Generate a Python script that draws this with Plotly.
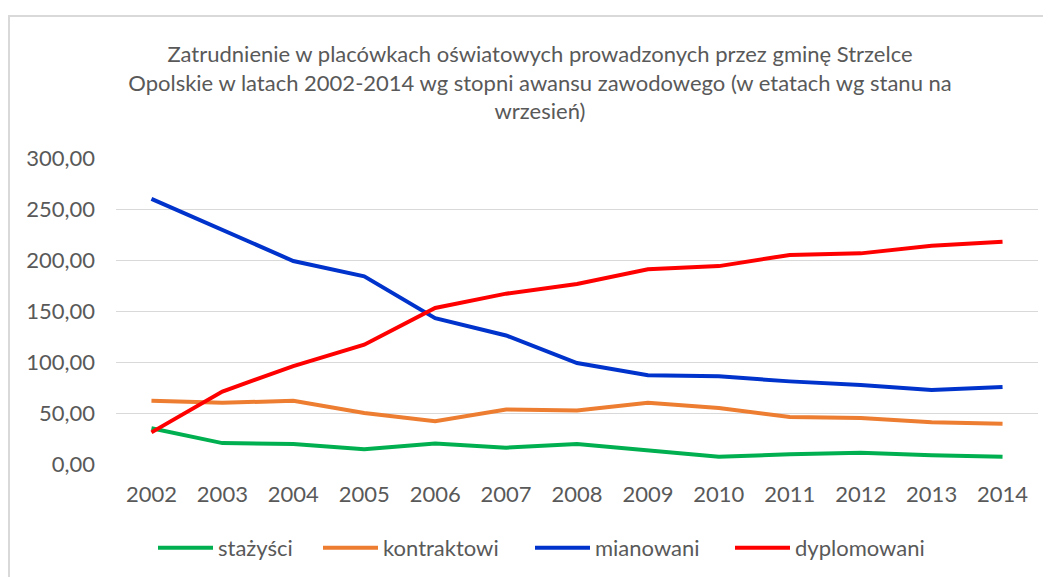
import plotly.graph_objects as go

years = ["2002", "2003", "2004", "2005", "2006", "2007", "2008", "2009", "2010", "2011", "2012", "2013", "2014"]
stazysci = [35, 20.5, 19.5, 14.5, 20, 16, 19.5, 13, 7, 9.5, 11, 8.5, 7]
kontraktowi = [62, 60, 62, 50, 42, 53.5, 52.5, 60, 55, 46, 45, 41, 39.5]
mianowani = [260, 229, 199, 184, 143, 126, 99, 87, 86, 81, 77.5, 72.5, 75.5]
dyplomowani = [31, 71, 96, 117, 153, 167, 176.5, 191, 194, 205, 206.5, 214, 218]

series = [
    ("stażyści", stazysci, "#00B050"),
    ("kontraktowi", kontraktowi, "#ED7D31"),
    ("mianowani", mianowani, "#0033CC"),
    ("dyplomowani", dyplomowani, "#FF0000"),
]
# screen x where each legend entry's text starts in the reference
legend_text_x = [218, 383, 595, 795]

# page body adds an 8px offset; figure coordinates are screen minus 8
OFF = 8
W, H = 1051 - OFF, 577 - OFF
ML, MT = 116 - OFF, 158 - OFF
MR = W - (1038 - OFF)
MB = H - (464 - OFF)
PW, PH = W - ML - MR, H - MT - MB
FONT = "Lato"
GRAY = "#595959"

fig = go.Figure()
legend_cfg = {}
for i, (name, vals, col) in enumerate(series):
    lname = "legend" if i == 0 else f"legend{i + 1}"
    fig.add_trace(go.Scatter(x=years, y=vals, name=name, mode="lines",
                             line=dict(color=col, width=4), legend=lname))
    legend_cfg[lname] = dict(
        orientation="h", xref="container", yref="container",
        x=(legend_text_x[i] - 65 - OFF) / W, xanchor="left",
        y=1 - (548 - OFF) / H, yanchor="middle",
        font=dict(size=22, color=GRAY, family=FONT), itemwidth=55,
        bgcolor="rgba(0,0,0,0)", borderwidth=0,
    )

fig.update_layout(
    width=W, height=H,
    margin=dict(l=ML, r=MR, t=MT, b=MB),
    paper_bgcolor="white", plot_bgcolor="white",
    separators=", ",
    font=dict(family=FONT, color=GRAY, size=22),
    title=dict(
        text="Zatrudnienie w placówkach oświatowych prowadzonych przez gminę Strzelce<br>"
             "Opolskie w latach 2002-2014 wg stopni awansu zawodowego (w etatach wg stanu na<br>"
             "wrzesień)",
        x=(540 - OFF) / W, xanchor="center", xref="container",
        y=1 - (62 - OFF) / H, yanchor="top", yref="container",
        font=dict(family=FONT, size=22, color=GRAY),
    ),
    xaxis=dict(type="category", range=[-0.5, 12.5], showgrid=False, zeroline=False,
               showline=False, ticks="", tickfont=dict(size=22, color=GRAY),
               ticklabelstandoff=15),
    yaxis=dict(range=[0, 300], dtick=50, tickformat=".2f", showgrid=True,
               gridcolor="#D9D9D9", gridwidth=1, zeroline=False, showline=False,
               ticks="", tickfont=dict(size=22, color=GRAY), ticklabelstandoff=20),
    showlegend=True,
    **legend_cfg,
)

# outer chart frame (left and top edges visible)
fig.add_shape(type="rect", xref="paper", yref="paper",
              x0=(9 - OFF - ML) / PW, x1=(W + 20 - ML) / PW,
              y0=-(MB + 20) / PH,
              y1=1 + (MT - (16 - OFF)) / PH,
              line=dict(color="#D9D9D9", width=2), layer="below")

fig.write_html("out.html")
